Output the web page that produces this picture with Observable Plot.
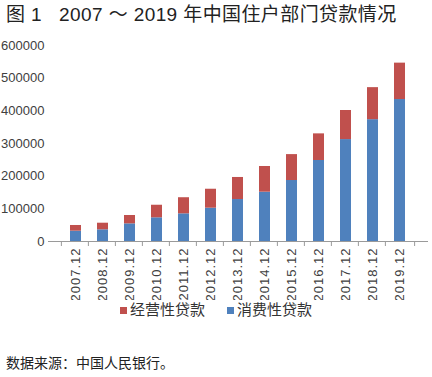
<!DOCTYPE html>
<html><head><meta charset="utf-8">
<script src="https://cdn.jsdelivr.net/npm/d3@7"></script>
<script src="https://cdn.jsdelivr.net/npm/@observablehq/plot@0.6"></script>
<style>
body{margin:0;background:#fff;width:432px;height:377px;position:relative;overflow:hidden;font-family:"Liberation Sans","Noto Sans CJK SC",sans-serif;color:#222;}
#title{position:absolute;left:6px;top:3px;font-size:19px;letter-spacing:0.4px;white-space:pre;line-height:24px;}
#chart{position:absolute;left:0;top:30px;}
#legend{position:absolute;left:0;top:300px;width:432px;display:flex;justify-content:center;align-items:center;font-size:15px;line-height:20px;color:#333;}
#legend .item{display:flex;align-items:center;margin:0 11px;}
#legend .sw{width:7px;height:7px;margin-right:3px;}
#caption{position:absolute;left:6px;top:353px;font-size:14px;line-height:20px;color:#222;}
svg [aria-label="x-axis tick label"] text{letter-spacing:1px;}
</style></head>
<body>
<div id="title"></div>
<div id="chart"></div>
<div id="legend"></div>
<div id="caption"></div>
<script>
const titleText = "图 1   2007 ～ 2019 年中国住户部门贷款情况";
const captionText = "数据来源：中国人民银行。";
const years = ["2007.12","2008.12","2009.12","2010.12","2011.12","2012.12","2013.12","2014.12","2015.12","2016.12","2017.12","2018.12","2019.12"];
const seriesNames = ["经营性贷款","消费性贷款"];
const seriesColors = ["#C0504D","#4F81BD"];
const consumer = [31600, 35800, 54000, 72500, 84700, 102000, 128500, 151000, 186700, 248000, 312000, 373000, 434600];
const business = [17400, 20200, 25600, 38500, 49300, 58000, 67500, 78600, 79300, 81500, 89000, 98000, 111400];
const yTicks = [0,100000,200000,300000,400000,500000,600000];

document.getElementById("title").textContent = titleText;
document.getElementById("caption").textContent = captionText;

const rows = years.flatMap((y,i)=>[
  {year:y, type:seriesNames[1], value:consumer[i]},
  {year:y, type:seriesNames[0], value:business[i]}
]);

const W = 432, ML = 48, MR = 4;
const step = (W-ML-MR)/years.length;

const chart = Plot.plot({
  width: W, height: 270,
  marginLeft: ML, marginRight: MR, marginTop: 15, marginBottom: 59,
  style: {fontFamily:'"Liberation Sans","Noto Sans CJK SC",sans-serif', fontSize:"13px", color:"#404040", background:"transparent"},
  x: {domain: years, padding: 0.59, label: null, tickSize: 0, tickRotate: -90, tickPadding: 6},
  y: {domain: [0,600000], ticks: yTicks, tickSize: 0, tickPadding: 4, label: null, tickFormat: d => String(d)},
  color: {domain: seriesNames, range: seriesColors},
  marks: [
    Plot.barY(rows, {x:"year", y:"value", fill:"type"}),
    Plot.ruleY([0], {stroke:"#9a9a9a"}),
    Plot.ruleX(years, {x: d=>d, y1: 0, y2: 0, insetBottom: -5, dx: -step/2, stroke:"#9a9a9a"}),
    Plot.ruleX([years[years.length-1]], {x: d=>d, y1: 0, y2: 0, insetBottom: -5, dx: step/2, stroke:"#9a9a9a"})
  ]
});
document.getElementById("chart").appendChild(chart);

const leg = document.getElementById("legend");
seriesNames.forEach((n,i)=>{
  const it = document.createElement("div"); it.className="item";
  const sw = document.createElement("div"); sw.className="sw"; sw.style.background=seriesColors[i];
  const tx = document.createElement("span"); tx.textContent=n;
  it.appendChild(sw); it.appendChild(tx); leg.appendChild(it);
});
</script>
</body></html>
